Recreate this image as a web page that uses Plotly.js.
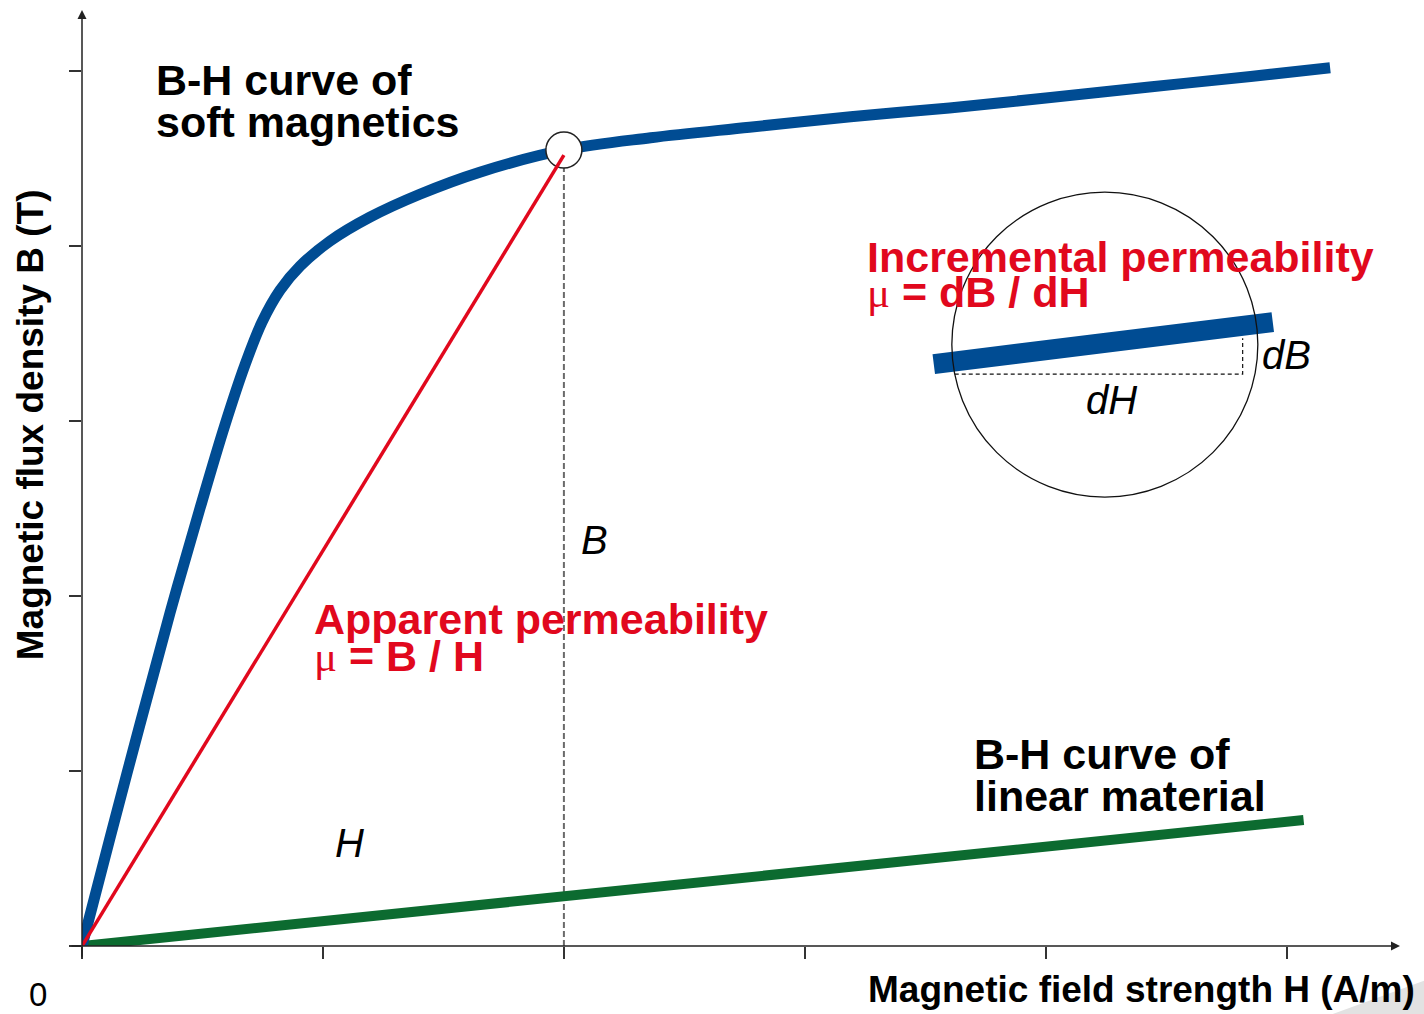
<!DOCTYPE html>
<html>
<head>
<meta charset="utf-8">
<script src="https://cdn.plot.ly/plotly-3.0.1.min.js"></script>
<style>
html,body{margin:0;padding:0;background:#fff;}
#chart{width:1424px;height:1014px;}
</style>
</head>
<body>
<div id="chart"></div>
<script>
// ---- data (H and B in tick units) ----
const softH = [0, 0.116, 0.241, 0.365, 0.490, 0.593, 0.676, 0.747, 0.822, 0.905, 1.029, 1.195, 1.402, 1.651, 2.00, 2.36, 2.77, 3.19, 3.60, 4.02, 4.43, 4.85, 5.18];
const softB = [0, 0.617, 1.269, 1.903, 2.503, 2.977, 3.320, 3.566, 3.749, 3.886, 4.029, 4.166, 4.297, 4.423, 4.55, 4.62, 4.68, 4.74, 4.79, 4.85, 4.91, 4.97, 5.02];
const linearH = [0, 5.07];
const linearB = [0, 0.72];
const apparentH = [0, 2.0];
const apparentB = [0, 4.52];
const pointH = [2.0];
const pointB = [4.55];
const guideH = [2.0, 2.0];
const guideB = [0, 4.47];
const incH = [3.535, 4.942];
const incB = [3.326, 3.566];
const dHlineH = [3.622, 4.817, 4.817];
const dHlineB = [3.269, 3.269, 3.474];
const xTicks = [0, 1, 2, 3, 4, 5];
const yTicks = [0, 1, 2, 3, 4, 5];

const BLUE = '#004c93';
const RED = '#e1081d';
const GREEN = '#0c6b30';
const FONT = 'Liberation Sans, Arial, sans-serif';
const MU = '<span style="font-family:\'Liberation Serif\',serif;font-weight:normal">μ</span>';

const traces = [
  {x: guideH, y: guideB, mode: 'lines', line: {color: '#6a6a6a', width: 2, dash: '6px,3px'}, hoverinfo: 'skip'},
  {x: linearH, y: linearB, mode: 'lines', line: {color: GREEN, width: 10}, hoverinfo: 'skip'},
  {x: softH, y: softB, mode: 'lines', line: {color: BLUE, width: 11, shape: 'spline', smoothing: 1}, hoverinfo: 'skip'},
  {x: pointH, y: pointB, mode: 'markers', marker: {symbol: 'circle', size: 36, color: '#ffffff', line: {color: '#222', width: 1.5}}, hoverinfo: 'skip'},
  {x: apparentH, y: apparentB, mode: 'lines', line: {color: RED, width: 3.5}, hoverinfo: 'skip'},
  {x: dHlineH, y: dHlineB, mode: 'lines', line: {color: '#111', width: 1.2, dash: '4px,3px'}, hoverinfo: 'skip'},
  {x: incH, y: incB, mode: 'lines', line: {color: BLUE, width: 20}, hoverinfo: 'skip'}
];

function txt(x, y, text, opts) {
  return Object.assign({
    x: x, y: y, xref: 'x', yref: 'y', text: text, showarrow: false,
    xanchor: 'left', yanchor: 'middle', xshift: -3,
    font: {family: FONT, size: 43, color: '#000', weight: 'bold'}
  }, opts || {});
}
const redFont = {family: FONT, size: 43, color: RED, weight: 'bold'};
const itFont = {family: FONT, size: 40, color: '#000', style: 'italic'};

const annotations = [
  txt(0.311, 4.95, 'B-H curve of'),
  txt(0.311, 4.71, 'soft magnetics'),
  txt(0.967, 1.87, 'Apparent permeability', {font: redFont}),
  txt(0.967, 1.66, MU + ' = B / H', {font: redFont}),
  txt(3.261, 3.94, 'Incremental permeability', {font: redFont}),
  txt(3.261, 3.74, MU + ' = dB / dH', {font: redFont}),
  txt(3.705, 1.10, 'B-H curve of'),
  txt(3.705, 0.86, 'linear material'),
  txt(2.075, 2.32, 'B', {font: itFont}),
  txt(1.054, 0.59, 'H', {font: itFont}),
  txt(4.90, 3.38, 'dB', {font: itFont}),
  txt(4.17, 3.12, 'dH', {font: itFont}),
  {x: -0.0334, y: -0.0513, xref: 'paper', yref: 'paper', xanchor: 'center', yanchor: 'middle', showarrow: false,
   text: '0', font: {family: FONT, size: 33, color: '#000'}},
  // axis titles
  {x: 1.0, y: -0.046, xref: 'paper', yref: 'paper', xanchor: 'right', yanchor: 'middle', showarrow: false,
   text: 'Magnetic field strength H (A/m)', xshift: 17, font: {family: FONT, size: 37, color: '#000', weight: 'bold'}},
  {x: -0.039, y: 0.557, xref: 'paper', yref: 'paper', xanchor: 'center', yanchor: 'middle', showarrow: false,
   textangle: -90, text: 'Magnetic flux density B (T)', font: {family: FONT, size: 37, color: '#000', weight: 'bold'}},
  // axis arrows
  {x: 5.47, y: 0, ax: -0.05, ay: 0, xref: 'x', yref: 'y', axref: 'x', ayref: 'y', text: '', showarrow: true,
   arrowhead: 2, arrowsize: 1.2, arrowwidth: 1.5, arrowcolor: '#222'},
  {x: 0, y: 5.35, ax: 0, ay: -0.07, xref: 'x', yref: 'y', axref: 'x', ayref: 'y', text: '', showarrow: true,
   arrowhead: 2, arrowsize: 1.2, arrowwidth: 1.5, arrowcolor: '#222'}
];

const shapes = [
  {type: 'circle', xref: 'x', yref: 'y', x0: 3.61, x1: 4.88, y0: 2.566, y1: 4.309,
   line: {color: '#111', width: 1.3}, layer: 'above'},
  {type: 'path', xref: 'paper', yref: 'paper', path: 'M 0.949 -0.0726 L 1.02 -0.0363 L 1.02 -0.0726 Z',
   fillcolor: '#e2e2e2', line: {width: 0}, layer: 'below'}
];

const layout = {
  width: 1424, height: 1014,
  margin: {l: 82, r: 24, t: 10, b: 68, pad: 0},
  paper_bgcolor: '#fff', plot_bgcolor: '#fff',
  showlegend: false,
  xaxis: {range: [0, 5.47], tickvals: xTicks, showticklabels: false, ticks: 'outside', ticklen: 12,
          tickwidth: 1.5, tickcolor: '#333', showgrid: false, zeroline: false, showline: false, fixedrange: true},
  yaxis: {range: [0, 5.35], tickvals: yTicks, showticklabels: false, ticks: 'outside', ticklen: 12,
          tickwidth: 1.5, tickcolor: '#333', showgrid: false, zeroline: false, showline: false, fixedrange: true},
  annotations: annotations,
  shapes: shapes
};

Plotly.newPlot('chart', traces, layout, {displayModeBar: false, staticPlot: true});
</script>
</body>
</html>
